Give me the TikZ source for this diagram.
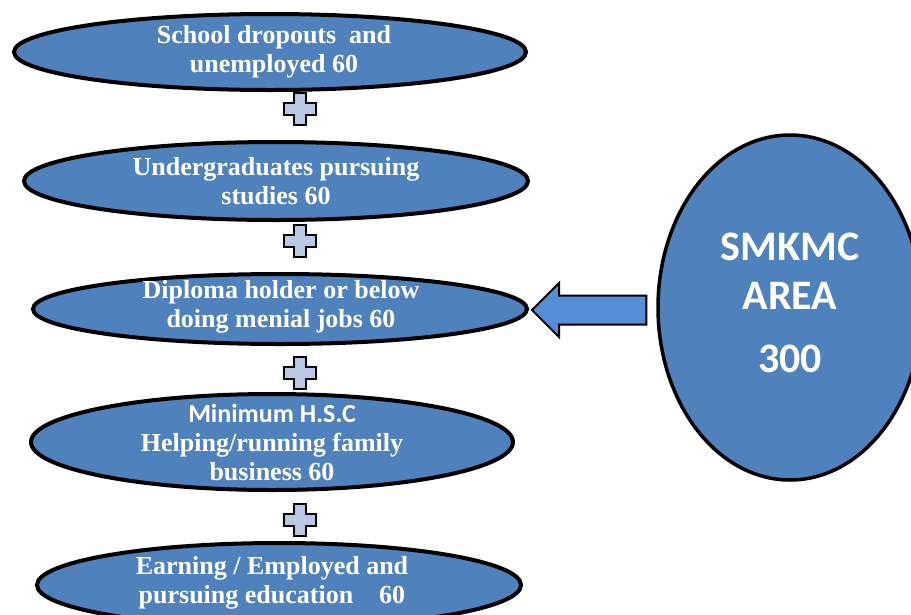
\documentclass[tikz,border=0pt]{standalone}
\usepackage{fontspec}
\setmainfont{Liberation Serif}
\newfontfamily\calfont{Carlito}
\usetikzlibrary{shapes.geometric,calc}

\definecolor{ovalblue}{HTML}{4F81BD}
\definecolor{arrowblue}{HTML}{558ED5}
\definecolor{pluspale}{HTML}{B9C9E3}

\tikzset{
  oval/.style={ellipse, draw=black, line width=4pt, fill=ovalblue, inner sep=0pt},
  bigoval/.style={ellipse, draw=black, line width=3.5pt, fill=ovalblue, inner sep=0pt},
  ovaltext/.style={text=white, align=center, inner sep=0pt,
    font=\bfseries\fontsize{26}{29}\selectfont},
  areatext/.style={text=white, align=center, inner sep=0pt,
    font=\calfont\bfseries\fontsize{42}{49}\selectfont},
  blockarrow/.style={draw=black, line width=2pt, fill=arrowblue, line join=miter},
  plusstyle/.style={draw=black, line width=2.5pt, fill=pluspale, line join=miter},
  plussign/.pic={
    \draw[plusstyle] (-6,-16) -- (6,-16) -- (6,-6) -- (16,-6) -- (16,6) -- (6,6)
      -- (6,16) -- (-6,16) -- (-6,6) -- (-16,6) -- (-16,-6) -- (-6,-6) -- cycle;
  }
}

\begin{document}
\begin{tikzpicture}[x=1pt, y=-1pt]
  \useasboundingbox (0,0) rectangle (911,614);
  \clip (0,0) rectangle (911,614);

  % the five groups, stacked top to bottom
  \node[oval, minimum width=512, minimum height=76] (drop) at (270,52) {};
  \node[ovaltext] (droptxt) at ($(drop.center)+(4,0)$) {School dropouts \ and\\unemployed 60};

  \node[oval, minimum width=504, minimum height=78] (ugrad) at (276,181) {};
  \node[ovaltext] (ugradtxt) at (ugrad.center) {Undergraduates pursuing\\studies 60};

  \node[oval, minimum width=494, minimum height=70] (dip) at (280,309) {};
  \node[ovaltext] (diptxt) at ($(dip.center)+(1,-2)$) {Diploma holder or below\\doing menial jobs 60};

  \node[oval, minimum width=482, minimum height=96] (hsc) at (272,442) {};
  \node[ovaltext] (hsctxt) at ($(hsc.center)+(0,1)$)
    {{\calfont\fontsize{26}{29}\selectfont Minimum H.S.C}\\Helping/running family\\business 60};

  \node[oval, minimum width=484, minimum height=84] (earn) at (279,585) {};
  \node[ovaltext] (earntxt) at ($(earn.center)+(-7,-2)$) {Earning / Employed and\\pursuing education\quad 60};

  % plus signs between the groups
  \pic at (300,109) {plussign};
  \pic at (300,241) {plussign};
  \pic at (300,373) {plussign};
  \pic at (300,520) {plussign};

  % the whole area
  \node[bigoval, minimum width=264, minimum height=345] (area) at (790,307.5) {};
  \node[areatext] (areatxt) at (790,303) {SMKMC\\AREA\\[14pt]300};

  % block arrow from the area into the middle group
  \coordinate (tip) at ($(dip.east)+(3,1)$);
  \coordinate (tail) at ($(tip -| area.west)+(-10,0)$);
  \draw[blockarrow] (tip) -- ++(27,-27) -- ++(0,12.5) -| ($(tail)+(0,14.5)$)
    -- ($(tip)+(27,14.5)$) -- ++(0,12.5) -- cycle;
\end{tikzpicture}
\end{document}
